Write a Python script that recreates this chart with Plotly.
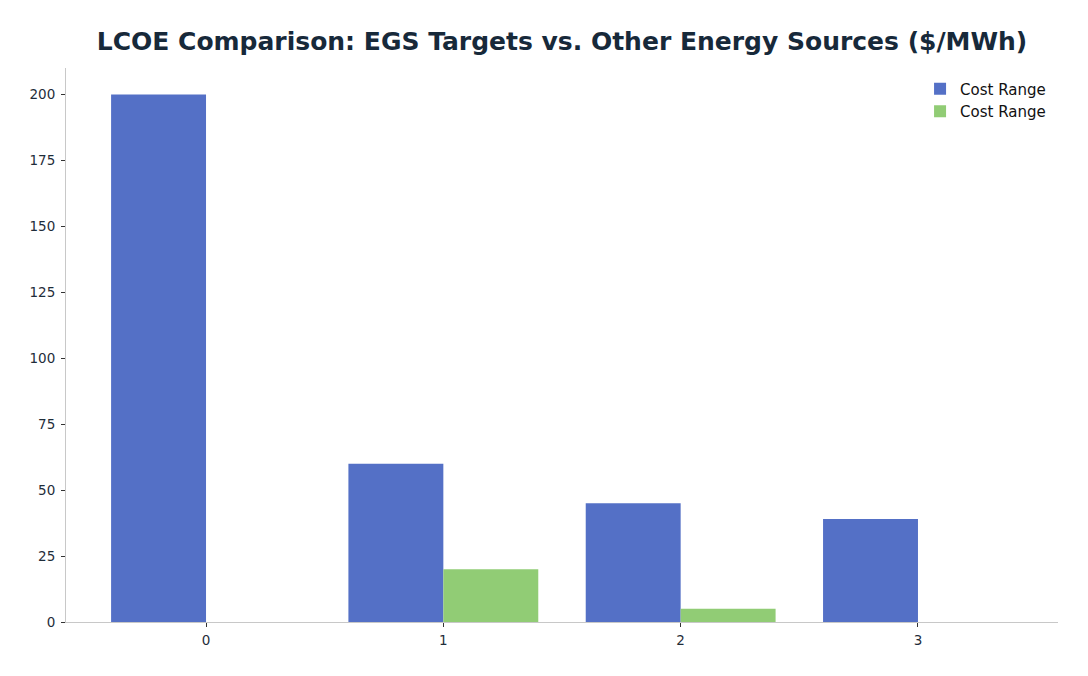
import plotly.graph_objects as go

categories = [0, 1, 2, 3]
series_a_name = "Cost Range"
series_a_values = [200, 60, 45, 39]
series_b_name = "Cost Range"
series_b_values = [0, 20, 5, 0]
y_ticks = [0, 25, 50, 75, 100, 125, 150, 175, 200]
title_text = "LCOE Comparison: EGS Targets vs. Other Energy Sources ($/MWh)"

fig = go.Figure()
fig.add_trace(go.Bar(x=categories, y=series_a_values, name=series_a_name,
                     marker=dict(color="#5470C6", line=dict(width=0))))
fig.add_trace(go.Bar(x=categories, y=series_b_values, name=series_b_name,
                     marker=dict(color="#91CC75", line=dict(width=0))))

fig.update_layout(
    width=1088, height=676,
    barmode="group", bargap=0.2, bargroupgap=0,
    paper_bgcolor="white", plot_bgcolor="white",
    font=dict(family="DejaVu Sans", size=13, color="#1f2d3a"),
    margin=dict(l=58, r=38, t=60, b=62),
    title=dict(text="<b>" + title_text + "</b>", xref="paper", x=0.5, xanchor="center",
               y=1 - 33/676, yanchor="middle",
               font=dict(family="DejaVu Sans", size=25, color="#17293a")),
    legend=dict(x=0.993, xanchor="right", y=0.992, yanchor="top",
                bgcolor="rgba(255,255,255,0)",
                font=dict(family="DejaVu Sans", size=15, color="#111111"),
                tracegroupgap=2),
    showlegend=True,
)
fig.update_xaxes(range=[-0.59, 3.59], tickvals=categories,
                 ticktext=[str(c) for c in categories],
                 showgrid=False, zeroline=False,
                 showline=True, linecolor="#c8c8c8", linewidth=1,
                 ticks="outside", ticklen=4, tickcolor="#333333",
                 ticklabelstandoff=2,
                 tickfont=dict(size=13.5, color="#1f2d3a"))
fig.update_yaxes(range=[0, 210], tickvals=y_ticks,
                 showgrid=False, zeroline=False,
                 showline=True, linecolor="#c8c8c8", linewidth=1,
                 ticks="outside", ticklen=4, tickcolor="#333333",
                 ticklabelstandoff=3,
                 tickfont=dict(size=13.5, color="#1f2d3a"))

fig.write_html("out.html")
